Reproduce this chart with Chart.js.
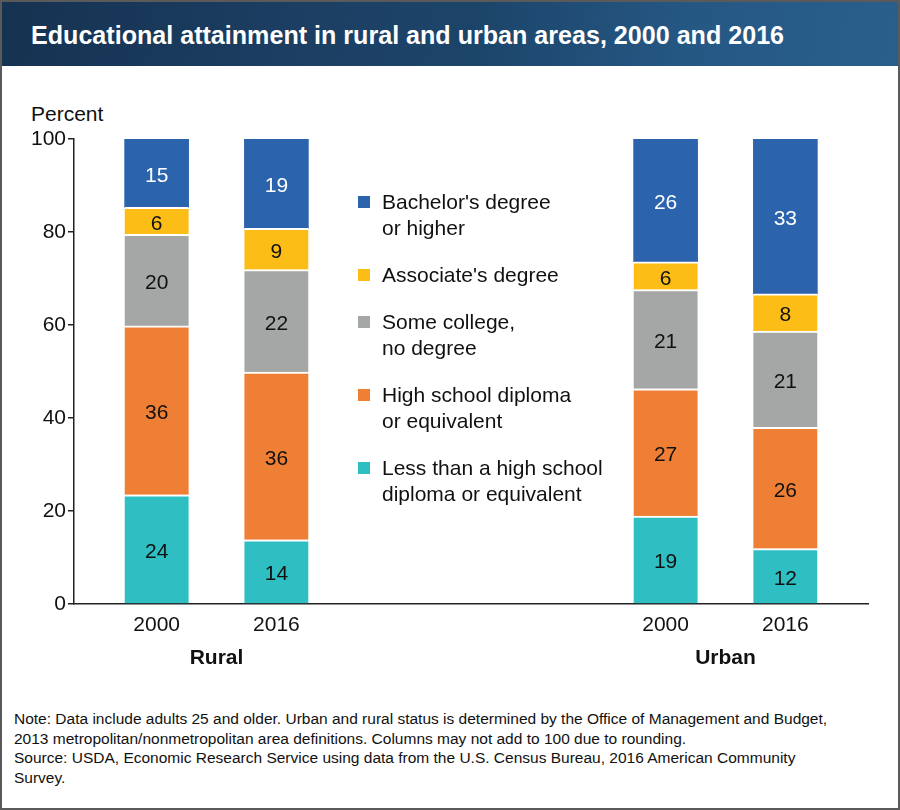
<!DOCTYPE html>
<html lang="en">
<head>
<meta charset="UTF-8">
<title>Educational attainment in rural and urban areas, 2000 and 2016</title>
<script src="https://cdn.jsdelivr.net/npm/chart.js"></script>
<style>
    html, body {
        margin: 0;
        padding: 0;
        background: #ffffff;
    }
    .frame {
        position: relative;
        width: 900px;
        height: 810px;
        box-sizing: border-box;
        border: 2px solid #5a5a5a;
        overflow: hidden;
        font-family: "Liberation Sans", Arial, Helvetica, sans-serif;
        color: #111;
    }
    .title-bar {
        position: absolute;
        left: 0; top: 0;
        width: 900px;
        height: 64px;
        background: linear-gradient(100deg, #163251 0%, #1d4166 40%, #1c4469 52%, #255783 75%, #2a5f8c 100%);
    }
    .title-bar h1 {
        margin: 0;
        position: absolute;
        left: 29px; top: 17px;
        font-size: 25.1px;
        font-weight: bold;
        color: #fff;
        line-height: 32px;
    }
    .ylabel {
        position: absolute;
        left: 29px; top: 98px;
        font-size: 21px;
        line-height: 28px;
    }
    canvas {
        position: absolute;
        left: -2px; top: 64px;
    }
    .legend {
        position: absolute;
        left: 356px; top: 187px;
        font-size: 21px;
        line-height: 26px;
    }
    .legend .item {
        position: relative;
        padding-left: 24px;
        margin-bottom: 21px;
    }
    .legend .box {
        position: absolute;
        left: 0; top: 7px;
        width: 12px; height: 12px;
    }
    .note {
        position: absolute;
        left: 12px; top: 707px;
        font-size: 15.5px;
        line-height: 19.5px;
    }
</style>
</head>
<body>
<div class="frame">
    <div class="title-bar"><h1>Educational attainment in rural and urban areas, 2000 and 2016</h1></div>
    <div class="ylabel">Percent</div>
    <canvas id="grafico" width="900" height="624"></canvas>
    <div class="legend" id="legenda"></div>
    <div class="note">
        Note: Data include adults 25 and older. Urban and rural status is determined by the Office of Management and Budget,<br>
        2013 metropolitan/nonmetropolitan area definitions. Columns may not add to 100 due to rounding.<br>
        Source: USDA, Economic Research Service using data from the U.S. Census Bureau, 2016 American Community<br>
        Survey.
    </div>
</div>

<script>
    // Dados (percentual)
    const years = ["2000", "2016", "2000", "2016"];
    const areas = ["Rural", "Urban"];

    const lessThanHS   = [23.5, 13.8, 18.9, 11.9];
    const highSchool   = [36.3, 36.1, 27.4, 26.1];
    const someCollege  = [19.7, 22.0, 21.3, 20.7];
    const associates   = [5.8, 8.9, 6.0, 8.0];
    const bachelors    = [14.7, 19.2, 26.4, 33.3];

    const yTicks = [0, 20, 40, 60, 80, 100];

    // Posição horizontal de cada coluna (eixo linear, 1 unidade = distância entre colunas)
    const slots = [1, 2, 5.25, 6.25];

    const series = [
        { label: ["Less than a high school", "diploma or equivalent"], data: lessThanHS, color: "#2fbec2", text: "#111" },
        { label: ["High school diploma", "or equivalent"], data: highSchool, color: "#ee7f35", text: "#111" },
        { label: ["Some college,", "no degree"], data: someCollege, color: "#a5a6a6", text: "#111" },
        { label: ["Associate's degree"], data: associates, color: "#fbbd16", text: "#111" },
        { label: ["Bachelor's degree", "or higher"], data: bachelors, color: "#2c63ad", text: "#fff" }
    ];

    // Legenda em HTML (ordem invertida, como no original)
    const legenda = document.getElementById("legenda");
    series.slice().reverse().forEach(s => {
        const item = document.createElement("div");
        item.className = "item";
        item.innerHTML = '<span class="box" style="background:' + s.color + '"></span>' + s.label.join("<br>");
        legenda.appendChild(item);
    });

    // Rótulos de valor dentro dos segmentos
    const valueLabels = {
        id: "valueLabels",
        afterDatasetsDraw(chart) {
            const ctx = chart.ctx;
            ctx.save();
            ctx.font = "21px 'Liberation Sans', Arial, sans-serif";
            ctx.textAlign = "center";
            ctx.textBaseline = "middle";
            chart.data.datasets.forEach((ds, i) => {
                const meta = chart.getDatasetMeta(i);
                meta.data.forEach((bar, j) => {
                    ctx.fillStyle = series[i].text;
                    ctx.fillText(Math.round(ds.data[j].y), bar.x, (bar.y + bar.base) / 2 + 3);
                });
            });
            ctx.restore();
        }
    };

    // Nomes dos grupos (Rural / Urban) abaixo dos anos
    const groupLabels = {
        id: "groupLabels",
        afterDraw(chart) {
            const ctx = chart.ctx;
            const x = chart.scales.x;
            ctx.save();
            ctx.font = "bold 21px 'Liberation Sans', Arial, sans-serif";
            ctx.fillStyle = "#111";
            ctx.textAlign = "center";
            ctx.textBaseline = "middle";
            areas.forEach((nome, k) => {
                const cx = (x.getPixelForValue(slots[2 * k]) + x.getPixelForValue(slots[2 * k + 1])) / 2;
                ctx.fillText(nome, cx, chart.chartArea.bottom + 54);
            });
            ctx.restore();
        }
    };

    new Chart(document.getElementById("grafico").getContext("2d"), {
        type: "bar",
        data: {
            datasets: series.map((s, i) => ({
                label: s.label.join(" "),
                data: s.data.map((v, j) => ({ x: slots[j], y: v })),
                backgroundColor: s.color,
                borderColor: "#ffffff",
                borderWidth: i === series.length - 1 ? 0 : { top: 2, left: 0, right: 0, bottom: 0 },
                borderSkipped: false,
                barThickness: 64
            }))
        },
        options: {
            responsive: false,
            animation: false,
            layout: { padding: { top: 73, right: 32, left: 0, bottom: 0 } },
            plugins: {
                legend: { display: false },
                tooltip: { enabled: false }
            },
            scales: {
                x: {
                    type: "linear",
                    stacked: true,
                    offset: false,
                    min: 0.31,
                    max: 6.94,
                    afterBuildTicks: scale => { scale.ticks = slots.map(v => ({ value: v })); },
                    afterFit: scale => { scale.height = 86; },
                    ticks: {
                        callback: (v, i) => years[i],
                        font: { size: 21, family: "'Liberation Sans', Arial, sans-serif" },
                        color: "#111",
                        padding: 9,
                        maxRotation: 0,
                        autoSkip: false
                    },
                    grid: { display: true, drawOnChartArea: false, drawTicks: false },
                    border: { display: true, color: "#222", width: 1.5 }
                },
                y: {
                    stacked: true,
                    min: 0,
                    max: 100,
                    afterBuildTicks: scale => { scale.ticks = yTicks.map(v => ({ value: v })); },
                    afterFit: scale => { scale.width = 74; },
                    ticks: {
                        font: { size: 21, family: "'Liberation Sans', Arial, sans-serif" },
                        color: "#111",
                        padding: 2
                    },
                    grid: { display: true, drawOnChartArea: false, drawTicks: true, tickLength: 6, color: "#222", lineWidth: 1.5 },
                    border: { display: true, color: "#222", width: 1.5 }
                }
            }
        },
        plugins: [valueLabels, groupLabels]
    });
</script>
</body>
</html>
